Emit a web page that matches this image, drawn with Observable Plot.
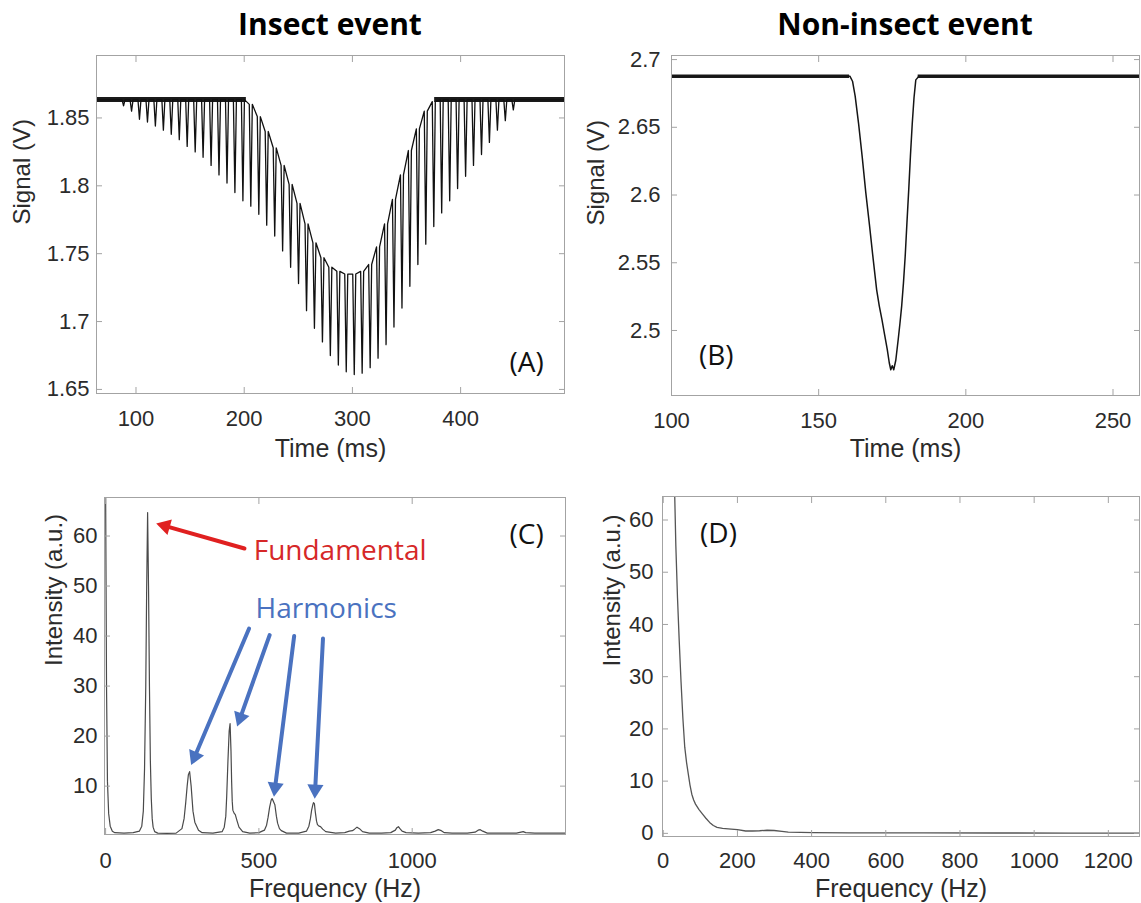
<!DOCTYPE html>
<html><head><meta charset="utf-8">
<script src="https://cdn.jsdelivr.net/npm/d3@7"></script>
<script src="https://cdn.jsdelivr.net/npm/@observablehq/plot@0.6"></script>
<style>
body{margin:0;background:#fff;}
#wrap{position:relative;width:1141px;height:903px;overflow:hidden;background:#fff;}
.panel{position:absolute;}
.title{position:absolute;top:9px;font-family:"Open Sans",sans-serif;font-weight:700;font-size:30px;line-height:1;color:#000;transform:translateX(-50%);white-space:nowrap;}
</style></head><body>
<div id="wrap">
  <div class="title" style="left:330px">Insect event</div>
  <div class="title" style="left:905px">Non-insect event</div>
</div>
<script>
// ---------- Panel A: insect event (time signal) ----------
const xDomA = [63.5, 496], yDomA = [1.647, 1.896];
const xTicksA = [100, 200, 300, 400];
const yTicksA = [1.65, 1.7, 1.75, 1.8, 1.85];
const baselineA = 1.8635;
const dipTimeA = [88.5,95.9,103.2,110.6,117.9,125.3,132.6,140.0,147.3,154.7,162.0,169.4,176.7,184.1,191.4,198.8,206.1,213.5,220.8,228.2,235.5,242.9,250.2,257.6,264.9,272.3,279.6,287.0,294.3,301.7,309.0,316.4,323.7,331.1,338.4,345.8,353.1,360.5,367.8,375.2,382.5,389.9,397.2,404.6,411.9,419.3,426.6,434.0,441.3,448.7];
const dipLowA = [1.859,1.855,1.849,1.847,1.844,1.841,1.838,1.834,1.829,1.825,1.821,1.815,1.808,1.802,1.795,1.789,1.785,1.779,1.771,1.763,1.752,1.740,1.728,1.708,1.695,1.685,1.675,1.668,1.663,1.661,1.662,1.666,1.673,1.683,1.696,1.710,1.726,1.742,1.757,1.770,1.780,1.789,1.798,1.807,1.815,1.823,1.832,1.841,1.848,1.856];
const dipTopA = [1.8635,1.8635,1.8635,1.8635,1.8635,1.8635,1.8635,1.8635,1.8635,1.8635,1.8635,1.8635,1.8635,1.8635,1.8635,1.8635,1.860,1.851,1.840,1.828,1.815,1.801,1.787,1.772,1.758,1.747,1.740,1.737,1.735,1.735,1.737,1.742,1.755,1.772,1.790,1.808,1.826,1.842,1.855,1.862,1.8635,1.8635,1.8635,1.8635,1.8635,1.8635,1.8635,1.8635,1.8635,1.8635];
const flatSpansA = [[63.5, 202], [376, 496]];

// ---------- Panel B: non-insect event (time signal) ----------
const xDomB = [100, 259], yDomB = [2.452, 2.703];
const xTicksB = [100, 150, 200, 250];
const yTicksB = [2.5, 2.55, 2.6, 2.65, 2.7];
const baselineB = 2.6877;
const timeB = [100,160.6,161.5,162.4,163.6,164.8,166,167.3,168.5,169.7,170.6,171.5,172.4,173.3,174,174.5,175,175.5,176.2,177,177.6,178.2,178.8,179.4,180,180.6,181.2,181.8,182.4,183,184.2,259];
const signalB = [2.6877,2.6877,2.684,2.673,2.652,2.628,2.602,2.577,2.553,2.530,2.518,2.508,2.497,2.486,2.476,2.471,2.474,2.471,2.478,2.493,2.505,2.518,2.535,2.555,2.580,2.604,2.630,2.653,2.672,2.685,2.688,2.688];
const flatSpansB = [[100, 160.5], [183.8, 259]];

// ---------- Panel C: insect spectrum ----------
const xDomC = [-3.6, 1500], yDomC = [0.33, 67.7];
const xTicksC = [0, 500, 1000];
const yTicksC = [10, 20, 30, 40, 50, 60];
const freqC = [0,3,6,10,15,22,30,60,90,110,118,123,127,131,134,137,140,143,146,149,152,155,160,170,200,230,249,256,261,266,270,274,279,285,291,297,303,315,350,380,387,392,395,399,403,406,409,411,413,415,419,423,429,435,447,470,500,518,525,530,535,540,543,547,552,557,561,567,573,590,630,655,663,668,672,676,678,681,684,688,691,696,701,708,718,750,780,795,805,812,820,828,838,860,900,930,945,950,955,960,967,980,1020,1060,1075,1085,1095,1105,1130,1180,1205,1215,1222,1230,1245,1290,1340,1355,1362,1370,1400,1450,1500];
const intC = [70,30,11,4.5,2,1,0.7,0.6,0.7,1.0,2.0,5,13.5,30,50,64.7,50,30,15,7.5,3.5,1.8,0.9,0.6,0.55,0.6,1.5,3.5,6.5,10,12.3,12.9,10,5,2.8,2.0,1.2,0.7,0.6,0.9,1.8,4,8,15,21,22.5,17,11,7,5.2,4.6,4.3,3,1.8,0.9,0.6,0.7,1.2,2.2,3.8,5.8,7.2,7.5,7.0,6.3,4,2.6,1.5,1.1,0.6,0.6,1.0,2.0,3.5,5.2,6.3,6.7,6.5,4.8,3,2.3,2.0,1.9,1.4,0.9,0.6,0.7,1.0,1.1,1.4,1.8,1.5,0.9,0.6,0.6,0.7,1.2,1.7,1.9,1.5,1.0,0.7,0.6,0.7,1.0,1.3,1.1,0.7,0.6,0.6,0.8,1.2,1.3,1.0,0.6,0.6,0.6,0.8,0.9,0.7,0.6,0.6,0.6];
const arrowsC = [
  {x1: 453, y1: 57.5, x2: 165, y2: 62.5, color: "#e02020"},
  {x1: 468, y1: 41.5, x2: 279, y2: 14.2, color: "#4a72c0"},
  {x1: 535, y1: 40.2, x2: 429, y2: 21.9, color: "#4a72c0"},
  {x1: 615, y1: 40.0, x2: 549, y2: 7.9, color: "#4a72c0"},
  {x1: 709, y1: 39.5, x2: 682, y2: 7.5, color: "#4a72c0"}
];
const notesC = [
  {x: 483, y: 56.9, text: "Fundamental", color: "#d62828"},
  {x: 489, y: 45.5, text: "Harmonics", color: "#4a72c0"}
];

// ---------- Panel D: non-insect spectrum ----------
const xDomD = [-2, 1284], yDomD = [-0.6, 64.5];
const xTicksD = [0, 200, 400, 600, 800, 1000, 1200];
const yTicksD = [0, 10, 20, 30, 40, 50, 60];
const freqD = [28,31,34,38.5,43,48,53,58,63,67.5,72,77,82,87,96,106,115,125,135,145,160,183,200,222,240,260,280,299,320,337,370,405,500,700,900,1100,1284];
const intD = [70,64.5,55,45,37,29,22,16.5,13.5,11.4,9.3,7.5,6.4,5.6,4.6,3.7,2.9,2.1,1.5,1.15,0.95,0.83,0.7,0.45,0.45,0.5,0.6,0.55,0.4,0.25,0.18,0.13,0.1,0.08,0.07,0.06,0.06];

// panel tags
const tags = [
  {panel: "A", x: 461, y: 1.6696, text: "(A)"},
  {panel: "B", x: 115.2, y: 2.481, text: "(B)"},
  {panel: "C", x: 1373, y: 60.2, text: "(C)"},
  {panel: "D", x: 149, y: 57.3, text: "(D)"}
];

// ---------- build tables ----------
const half = 1.4; // half-width of each wingbeat dip (ms)
const lineA = [{t: xDomA[0], v: baselineA}];
dipTimeA.forEach((t, i) => {
  lineA.push({t: t - half, v: dipTopA[i]}, {t, v: dipLowA[i]}, {t: t + half, v: dipTopA[i]});
});
lineA.push({t: xDomA[1], v: baselineA});
const lineB = timeB.map((t, i) => ({t, v: signalB[i]}));
const lineC = freqC.map((f, i) => ({f, v: intC[i]}));
const lineD = freqD.map((f, i) => ({f, v: intD[i]}));

const FRAME = "#a3a3a3", INK = "#2b2b2b";
const fmt = d => String(d);
const tagFont = "'Open Sans', sans-serif";

// geometry of panel C (used to orient the arrow heads)
const geomC = {width: 580, height: 433, m: [27, 15, 69, 104]};
const sxC = d3.scaleLinear(xDomC, [geomC.m[3], geomC.width - geomC.m[1]]);
const syC = d3.scaleLinear(yDomC, [geomC.height - geomC.m[2], geomC.m[0]]);
const headR = 6;
const headMarks = arrowsC.map(a => {
  const dx = sxC(a.x2) - sxC(a.x1), dy = syC(a.y2) - syC(a.y1);
  const len = Math.hypot(dx, dy), ux = dx / len, uy = dy / len;
  const rot = Math.atan2(dx, -dy) * 180 / Math.PI;
  const back = 1.555 * headR;
  return Plot.dot([a], {x: "x2", y: "y2", symbol: "triangle", r: headR, fill: a.color, stroke: "none",
    rotate: rot, dx: -back * ux, dy: -back * uy});
});

function makePanel(c) {
  const t = 6;
  return Plot.plot({
    width: c.width, height: c.height,
    marginTop: c.m[0], marginRight: c.m[1], marginBottom: c.m[2], marginLeft: c.m[3],
    style: {fontFamily: "'Liberation Sans', Arial, sans-serif", fontSize: "22px", color: INK, background: "transparent", overflow: "visible"},
    x: {domain: c.xDom}, y: {domain: c.yDom},
    marks: [
      ...c.marks,
      Plot.frame({stroke: FRAME}),
      // tick labels
      Plot.axisX({anchor: "bottom", ticks: c.xTicks, tickSize: 0, tickPadding: c.xTickDy, tickFormat: fmt, fill: INK, label: null}),
      Plot.axisY({anchor: "left", ticks: c.yTicks, tickSize: 0, tickPadding: c.yTickGap, tickFormat: fmt, fill: INK, label: null}),
      // inward ticks on all four sides
      Plot.axisX({anchor: "bottom", ticks: c.xTicks, tickSize: t, dy: -t, fill: "none", stroke: FRAME, label: null}),
      Plot.axisX({anchor: "top", ticks: c.xTicks, tickSize: t, dy: t, fill: "none", stroke: FRAME, label: null}),
      Plot.axisY({anchor: "left", ticks: c.yTicks, tickSize: t, dx: t, fill: "none", stroke: FRAME, label: null}),
      Plot.axisY({anchor: "right", ticks: c.yTicks, tickSize: t, dx: -t, fill: "none", stroke: FRAME, label: null}),
      // axis titles
      Plot.text([c.xLab], {frameAnchor: "bottom", dy: c.xLabDy, text: d => d, fontSize: 25, fill: INK}),
      Plot.text([c.yLab], {frameAnchor: "left", dx: -c.yLabDx, rotate: -90, text: d => d, fontSize: 24, fill: INK}),
      Plot.text(tags.filter(d => d.panel === c.tag), {x: "x", y: "y", text: "text", fontSize: 28, fontFamily: tagFont, fill: "#111"})
    ]
  });
}

const panels = [
  {left: 0, top: 0, width: 580, height: 470, m: [55, 16, 77, 96], xDom: xDomA, yDom: yDomA, xTicks: xTicksA, yTicks: yTicksA,
   xTickDy: 17, yTickGap: 7, xLab: "Time (ms)", xLabDy: 63, yLab: "Signal (V)", yLabDx: 74, tag: "A",
   marks: [
     Plot.ruleY(flatSpansA, {y: () => baselineA, x1: d => d[0], x2: d => d[1], stroke: "#1a1a1a", strokeWidth: 5}),
     Plot.line(lineA, {x: "t", y: "v", stroke: "#111", strokeWidth: 1.3, clip: true})
   ]},
  {left: 580, top: 0, width: 561, height: 470, m: [55, 2, 75, 91], xDom: xDomB, yDom: yDomB, xTicks: xTicksB, yTicks: yTicksB,
   xTickDy: 17, yTickGap: 11, xLab: "Time (ms)", xLabDy: 61, yLab: "Signal (V)", yLabDx: 75, tag: "B",
   marks: [
     Plot.ruleY(flatSpansB, {y: () => baselineB, x1: d => d[0], x2: d => d[1], stroke: "#1a1a1a", strokeWidth: 3.5}),
     Plot.line(lineB, {x: "t", y: "v", stroke: "#151515", strokeWidth: 1.5, clip: true})
   ]},
  {left: 0, top: 470, width: geomC.width, height: geomC.height, m: geomC.m, xDom: xDomC, yDom: yDomC, xTicks: xTicksC, yTicks: yTicksC,
   xTickDy: 18, yTickGap: 7, xLab: "Frequency (Hz)", xLabDy: 62, yLab: "Intensity (a.u.)", yLabDx: 50, tag: "C",
   marks: [
     Plot.line(lineC, {x: "f", y: "v", stroke: "#4a4a4a", strokeWidth: 1.2, clip: true}),
     Plot.arrow(arrowsC, {x1: "x1", y1: "y1", x2: "x2", y2: "y2", stroke: "color", strokeWidth: 4, headLength: 0, insetEnd: 8}),
     ...headMarks,
     Plot.text(notesC, {x: "x", y: "y", text: "text", fill: "color", textAnchor: "start", fontSize: 28, fontFamily: tagFont})
   ]},
  {left: 580, top: 470, width: 561, height: 433, m: [26, 2, 67, 82], xDom: xDomD, yDom: yDomD, xTicks: xTicksD, yTicks: yTicksD,
   xTickDy: 16, yTickGap: 9, xLab: "Frequency (Hz)", xLabDy: 60, yLab: "Intensity (a.u.)", yLabDx: 50, tag: "D",
   marks: [
     Plot.line(lineD, {x: "f", y: "v", stroke: "#555", strokeWidth: 1.3, clip: true})
   ]}
];

const wrap = document.getElementById("wrap");
for (const c of panels) {
  const div = document.createElement("div");
  div.className = "panel";
  div.style.left = c.left + "px";
  div.style.top = c.top + "px";
  div.appendChild(makePanel(c));
  wrap.insertBefore(div, wrap.firstChild);
}
</script>
</body></html>
